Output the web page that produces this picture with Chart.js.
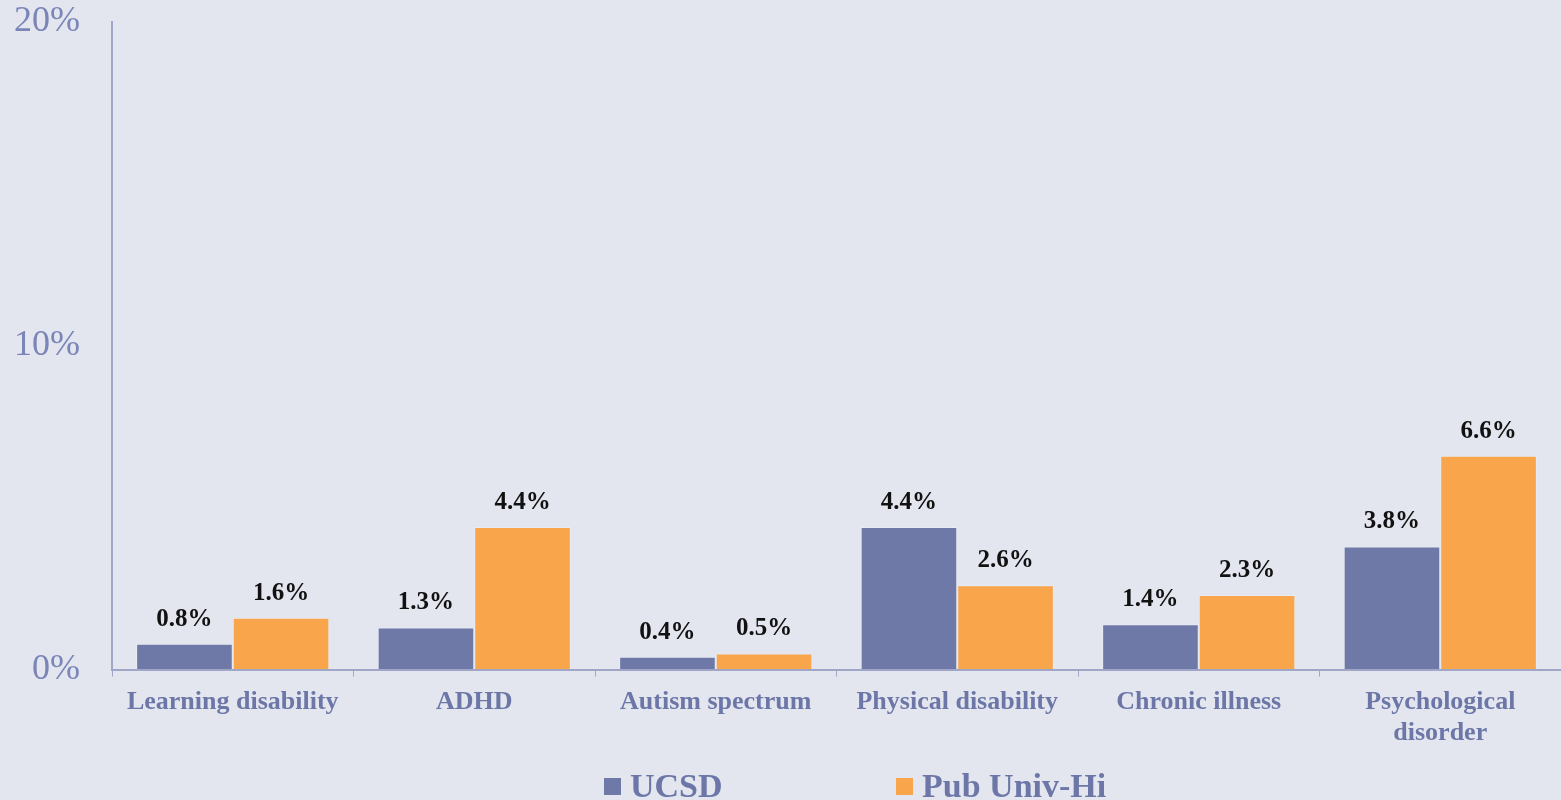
<!DOCTYPE html>
<html>
<head>
<meta charset="utf-8">
<script src="https://cdn.jsdelivr.net/npm/chart.js@4/dist/chart.umd.min.js"></script>
<style>
    html, body { margin: 0; padding: 0; background: #e3e6ef; }
    #wrap { width: 1561px; height: 800px; position: relative; }
</style>
</head>
<body>
<div id="wrap"><canvas id="chart"></canvas></div>
<script>
// Chart data
const categories = ['Learning disability', 'ADHD', 'Autism spectrum', 'Physical disability', 'Chronic illness', ['Psychological', 'disorder']];
const seriesNames = ['UCSD', 'Pub Univ-Hi'];
const ucsdValues = [0.8, 1.3, 0.4, 4.4, 1.4, 3.8];
const pubUnivValues = [1.6, 4.4, 0.5, 2.6, 2.3, 6.6];
const yTicks = [0, 10, 20];

const serif = '"Liberation Serif", "Times New Roman", serif';
const barColors = ['#6e79a8', '#f8a54b'];
const axisColor = '#a0a6c6';

// Bold value labels above each bar
const valueLabels = {
    id: 'valueLabels',
    afterDatasetsDraw(chart) {
        const ctx = chart.ctx;
        ctx.save();
        ctx.font = 'bold 25px ' + serif;
        ctx.fillStyle = '#111111';
        ctx.textAlign = 'center';
        ctx.textBaseline = 'alphabetic';
        chart.data.datasets.forEach((ds, i) => {
            chart.getDatasetMeta(i).data.forEach((bar, j) => {
                ctx.fillText(ds.data[j].toFixed(1) + '%', bar.x, bar.y - 18);
            });
        });
        ctx.restore();
    }
};

// Legend drawn at the bottom, spaced like the original
const bottomLegend = {
    id: 'bottomLegend',
    afterDraw(chart) {
        const ctx = chart.ctx;
        const starts = [604, 896];
        ctx.save();
        ctx.font = 'bold 34px ' + serif;
        ctx.textBaseline = 'alphabetic';
        chart.data.datasets.forEach((ds, i) => {
            const x = starts[i];
            ctx.fillStyle = ds.backgroundColor;
            ctx.fillRect(x, 778, 17, 17);
            ctx.fillStyle = '#6c77a7';
            ctx.fillText(ds.label, x + 26, 797);
        });
        ctx.restore();
    }
};

new Chart(document.getElementById('chart'), {
    type: 'bar',
    data: {
        labels: categories,
        datasets: [
            { label: seriesNames[0], data: ucsdValues, backgroundColor: barColors[0], borderColor: 'rgba(255,255,255,0.25)', borderWidth: 1 },
            { label: seriesNames[1], data: pubUnivValues, backgroundColor: barColors[1], borderColor: 'rgba(255,255,255,0.25)', borderWidth: 1 }
        ]
    },
    options: {
        responsive: true,
        maintainAspectRatio: false,
        animation: false,
        layout: { padding: { top: 4, right: 0, bottom: 41, left: 0 } },
        datasets: { bar: { categoryPercentage: 0.8, barPercentage: 1.0 } },
        plugins: {
            legend: { display: false },
            tooltip: { enabled: false }
        },
        scales: {
            x: {
                grid: { drawOnChartArea: false, drawTicks: true, tickLength: 7, color: axisColor, offset: true },
                border: { color: axisColor, width: 2 },
                ticks: {
                    color: '#6c77a7',
                    padding: 10,
                    maxRotation: 0,
                    autoSkip: false,
                    font: { family: serif, size: 26, weight: 'bold', lineHeight: 1.2 }
                }
            },
            y: {
                min: 0,
                max: 20,
                afterBuildTicks(axis) { axis.ticks = yTicks.map(v => ({ value: v })); },
                afterFit(axis) { axis.width = 112; },
                // invisible tick marks keep the labels away from the axis line
                grid: { drawOnChartArea: false, drawTicks: true, tickLength: 32, color: 'rgba(0,0,0,0)' },
                border: { color: axisColor, width: 2 },
                ticks: {
                    color: '#7b85b7',
                    padding: 0,
                    font: { family: serif, size: 36 },
                    callback: v => v + '%'
                }
            }
        }
    },
    plugins: [valueLabels, bottomLegend]
});
</script>
</body>
</html>
